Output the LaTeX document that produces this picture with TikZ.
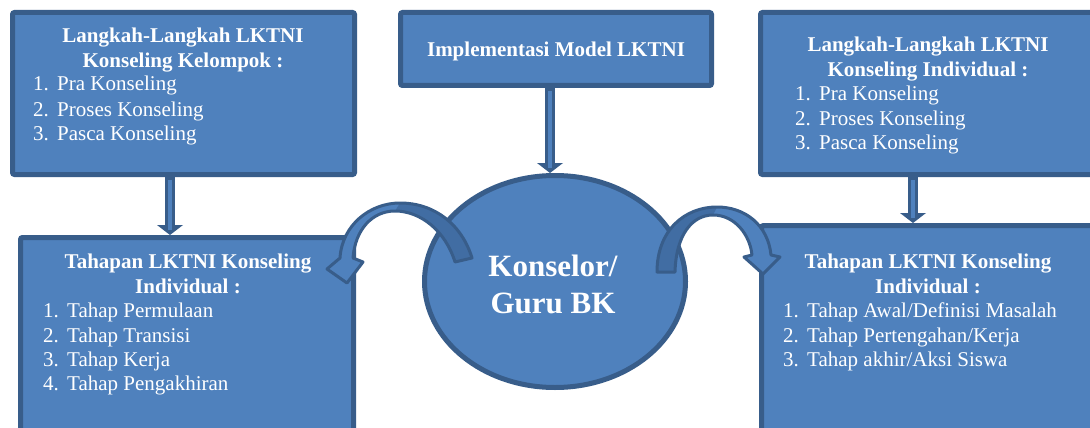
\documentclass[tikz,border=0pt]{standalone}
\usepackage{fontspec}
\setmainfont{Liberation Serif}
\usetikzlibrary{calc}
\definecolor{bfill}{HTML}{4F81BD}
\definecolor{bdark}{HTML}{385D8A}
\definecolor{bmid}{HTML}{416DA3}
\tikzset{
  box/.style={draw=bdark, fill=bfill, line width=5pt, rounded corners=2pt, inner sep=0pt},
  oval/.style={ellipse, draw=bdark, fill=bfill, line width=5pt, inner sep=0pt},
  lbl/.style={text=white, inner sep=0pt, anchor=base, font=\fontsize{21}{24}\selectfont},
  ttl/.style={lbl, font=\fontsize{21}{24}\selectfont\bfseries},
  itm/.style={lbl, anchor=base west},
  big/.style={lbl, font=\fontsize{31}{37}\selectfont\bfseries},
  shaft/.style={draw=bdark, line width=10pt},
  shaftin/.style={draw=bfill, line width=3.5pt},
  band/.style={draw=bdark, line width=3pt, line join=round},
}
\newcommand{\myvarrow}[2]{%
  \draw[shaft] (#1) -- ($(#2)+(0,-8)$);
  \fill[bdark] (#2) -- ($(#2)+(-13,-10)$) -- ($(#2)+(13,-10)$) -- cycle;
  \draw[shaftin] ($(#1)+(0,3)$) -- ($(#2)+(0,-5)$);
}
\newcommand{\itemline}[1]{\makebox[24pt][l]{#1}}
\newcommand{\leftband}{(455,262) -- (472,258) .. controls (462,225) and (435,203) .. (400,203)
  .. controls (370,203) and (342,225) .. (340,258) -- (327,269) -- (347,283) -- (363,262) -- (353,258)
  .. controls (355,230) and (372,211) .. (395,211) .. controls (420,211) and (445,230) .. (455,262) -- cycle}
\newcommand{\leftbandpart}{(455,262) -- (472,258) .. controls (462,225) and (435,203) .. (400,203)
  -- (395,211) .. controls (420,211) and (445,230) .. (455,262) -- cycle}
\newcommand{\rightband}{(657,272) -- (675,272) .. controls (676,235) and (692,215) .. (713,215)
  .. controls (735,215) and (750,235) .. (752,255) -- (744,257) -- (763,274) -- (780,257) -- (771,255)
  .. controls (768,225) and (745,207) .. (717,207) .. controls (685,207) and (657,230) .. (657,272) -- cycle}
\newcommand{\rightbandpart}{(657,272) -- (675,272) .. controls (676,235) and (692,215) .. (713,215)
  -- (717,207) .. controls (685,207) and (657,230) .. (657,272) -- cycle}
\usetikzlibrary{shapes.geometric}
\begin{document}
\begin{tikzpicture}[x=1pt,y=-1pt]
\clip (0,0) rectangle (1090,428);
\fill[white] (0,0) rectangle (1090,428);

% boxes
\node[box, minimum width=342pt, minimum height=162pt] (b1) at (183.5,93.5) {};
\node[box, minimum width=311pt, minimum height=73pt] (b2) at (556,49) {};
\node[box, minimum width=335pt, minimum height=162pt] (b3) at (928,93.5) {};
\node[box, minimum width=333pt, minimum height=222.5pt] (b4) at (187,348.75) {};
\node[box, minimum width=333.5pt, minimum height=234.5pt] (b5) at (928.25,342.75) {};
\node[oval, minimum width=261pt, minimum height=212pt] (ell) at (555,281.5) {};

% straight arrows
\coordinate (a1s) at ([xshift=-13.5pt]b1.south);
\coordinate (a1e) at (a1s |- b4.north);
\coordinate (a2s) at ([xshift=-6pt]b2.south);
\coordinate (a2e) at (a2s |- ell.north);
\coordinate (a3s) at ([xshift=-15pt]b3.south);
\coordinate (a3e) at (a3s |- b5.north);
\myvarrow{a1s}{a1e}
\myvarrow{a2s}{a2e}
\myvarrow{a3s}{a3e}

% curved arrows
\fill[bfill] \leftband;
\fill[bmid] \leftbandpart;
\draw[band] \leftband;
\fill[bfill] \rightband;
\fill[bmid] \rightbandpart;
\draw[band] \rightband;

% texts box 1
\node[ttl] (t1a) at (183,43) {Langkah-Langkah LKTNI};
\node[ttl] (t1b) at (183,67) {Konseling Kelompok :};
\node[itm] (t1c) at (33,91) {\itemline{1.}Pra Konseling};
\node[itm] (t1d) at (33,116) {\itemline{2.}Proses Konseling};
\node[itm] (t1e) at (33,140) {\itemline{3.}Pasca Konseling};

% box 2
\node[ttl] (t2a) at (556,57) {Implementasi Model LKTNI};

% box 3
\node[ttl] (t3a) at (928,52) {Langkah-Langkah LKTNI};
\node[ttl] (t3b) at (928,77) {Konseling Individual :};
\node[itm] (t3c) at (795,100) {\itemline{1.}Pra Konseling};
\node[itm] (t3d) at (795,125) {\itemline{2.}Proses Konseling};
\node[itm] (t3e) at (795,149) {\itemline{3.}Pasca Konseling};

% box 4
\node[ttl] (t4a) at (188,268) {Tahapan LKTNI Konseling};
\node[ttl] (t4b) at (188,293) {Individual :};
\node[itm] (t4c) at (43,317) {\itemline{1.}Tahap Permulaan};
\node[itm] (t4d) at (43,342) {\itemline{2.}Tahap Transisi};
\node[itm] (t4e) at (43,366) {\itemline{3.}Tahap Kerja};
\node[itm] (t4f) at (43,390) {\itemline{4.}Tahap Pengakhiran};

% box 5
\node[ttl] (t5a) at (928,268) {Tahapan LKTNI Konseling};
\node[ttl] (t5b) at (928,293) {Individual :};
\node[itm] (t5c) at (783,317) {\itemline{1.}Tahap Awal/Definisi Masalah};
\node[itm] (t5d) at (783,342) {\itemline{2.}Tahap Pertengahan/Kerja};
\node[itm] (t5e) at (783,366) {\itemline{3.}Tahap akhir/Aksi Siswa};

% ellipse text
\node[big] (t6a) at (553,276) {Konselor/};
\node[big] (t6b) at (553,313) {Guru BK};
\end{tikzpicture}
\end{document}
